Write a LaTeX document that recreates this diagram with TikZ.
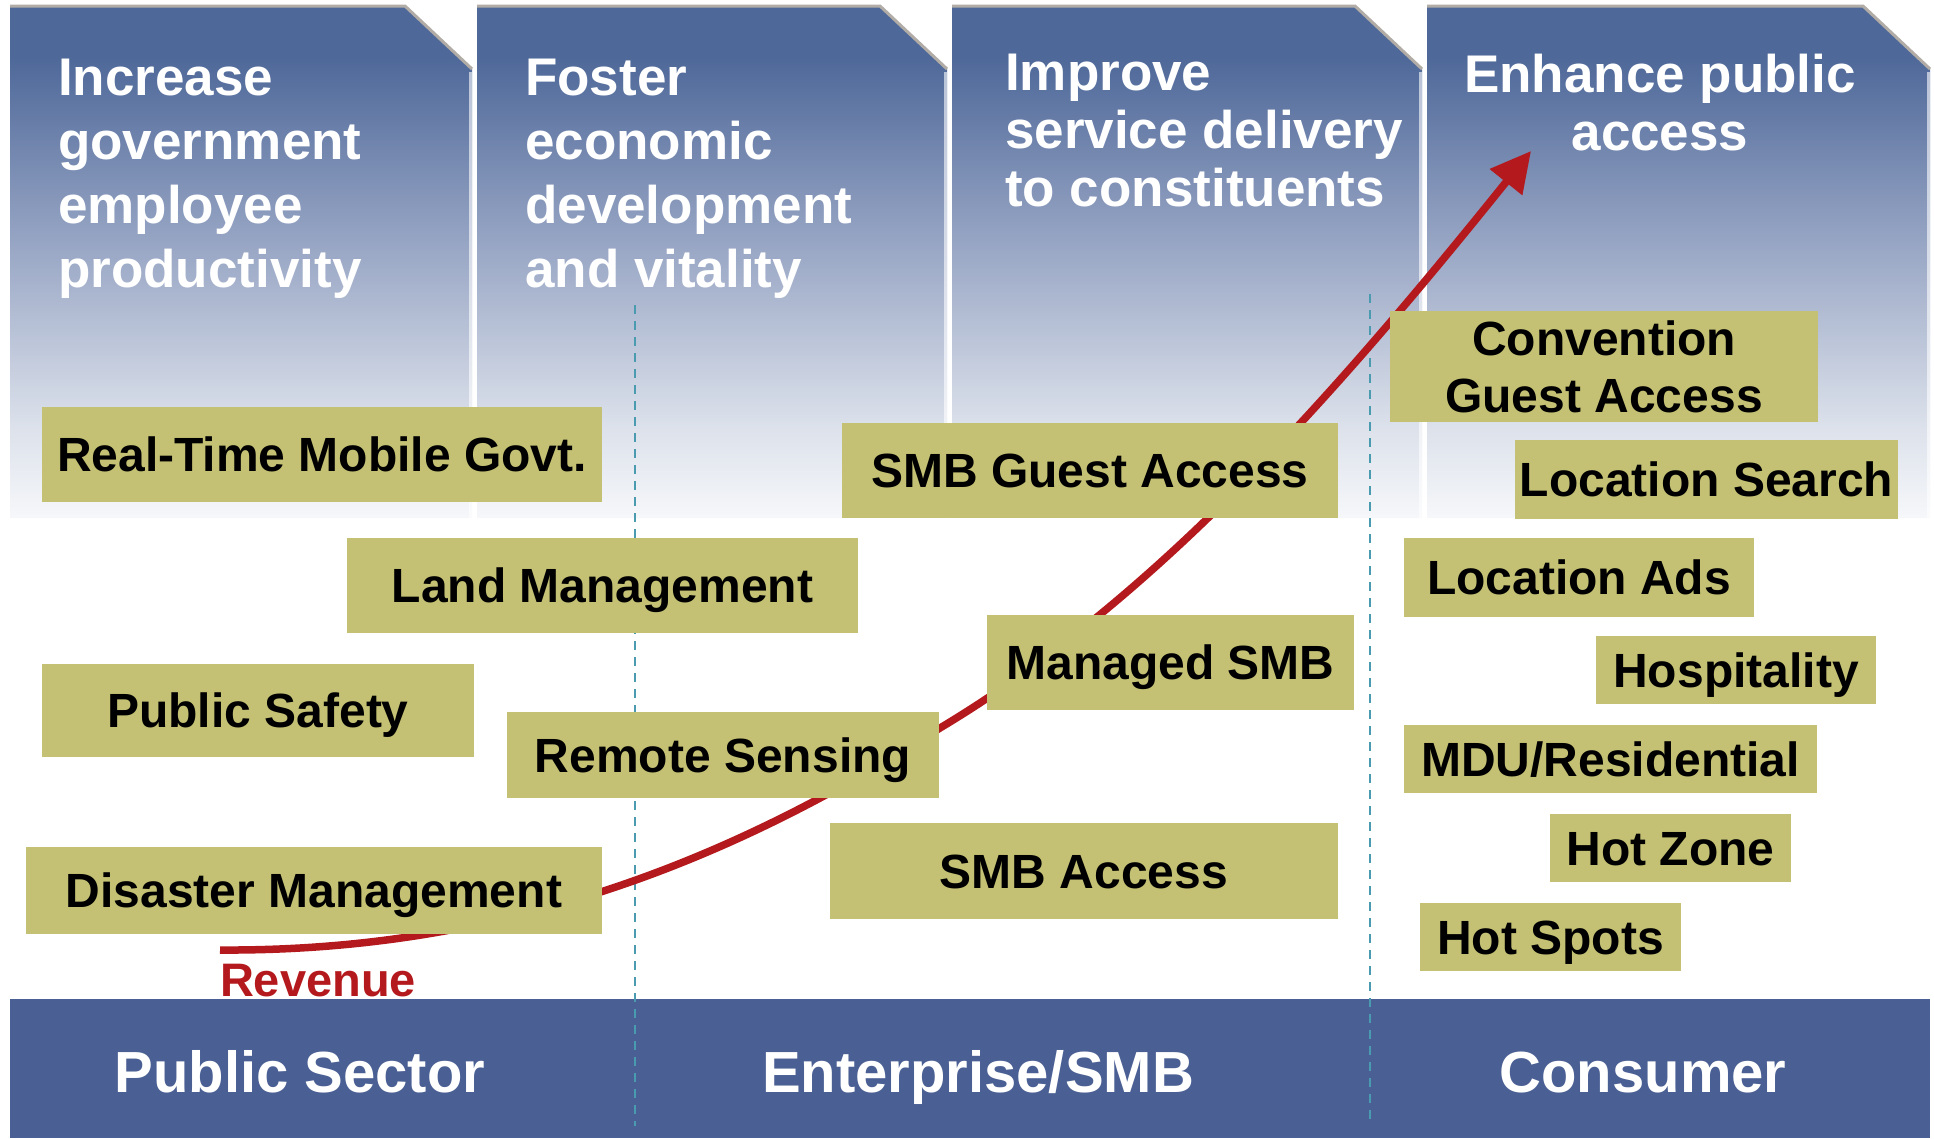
\documentclass[tikz,border=0pt]{standalone}
\usepackage{fontspec}
\setmainfont{Liberation Sans}
\usepackage{tikz}
\usetikzlibrary{arrows.meta}

\definecolor{tabblue}{HTML}{4E6899}
\definecolor{tabmid}{HTML}{97A5C4}
\definecolor{tabedge}{HTML}{B2ACA6}
\definecolor{boxfill}{HTML}{C4C174}
\definecolor{bandblue}{HTML}{4A5F93}
\definecolor{divider}{HTML}{4B9BB0}
\definecolor{revred}{HTML}{B41A1D}
\pgfdeclareverticalshading{tabfade}{100bp}{color(0bp)=(tabblue!5); color(25bp)=(tabblue!5); color(34bp)=(tabblue!20); color(52bp)=(tabmid); color(70bp)=(tabblue); color(100bp)=(tabblue)}

% one goal tab, from x=#1 to x=#2
\newcommand{\goaltab}[2]{%
  \shade[shading=tabfade] (#1,6) -- (#2-67,6) -- (#2,69) -- (#2,518) -- (#1,518) -- cycle;
  \draw[tabedge, line width=3pt] (#1,6) -- (#2-67,6) -- (#2,69);
  \draw[white, line width=3pt, opacity=0.6] (#2-2,72) -- (#2-2,518);}

\tikzset{
  boxbase/.style={fill=boxfill, font=\fontsize{48}{57}\selectfont\bfseries, inner sep=0pt, align=center},
  item/.style={boxbase, text height=34.4pt, text depth=0pt},
  goal/.style={text=white, font=\fontsize{53}{64}\selectfont\bfseries, inner sep=0pt},
  sector/.style={text=white, font=\fontsize{58}{66}\selectfont\bfseries, inner sep=0pt, anchor=base},
  divide/.style={divider, line width=2.5pt, dash pattern=on 9pt off 7pt},
  revenue/.style={revred, line width=7.5pt},
}

\begin{document}
\begin{tikzpicture}[x=1pt, y=-1pt]
\useasboundingbox (0,0) rectangle (1934,1138);
% goals
\goaltab{10}{472}
\goaltab{477}{947}
\goaltab{952}{1422}
\goaltab{1427}{1930}
\node[goal, anchor=north west, align=left] (productivity) at (58,59) {Increase\\government\\employee\\productivity};
\node[goal, anchor=north west, align=left] (economic) at (525,59) {Foster\\economic\\development\\and vitality};
\node[goal, anchor=north west, align=left, font=\fontsize{53}{58}\selectfont\bfseries] (service) at (1005,54) {Improve\\service delivery\\to constituents};
\node[goal, anchor=north, align=center, font=\fontsize{53}{58}\selectfont\bfseries] (publicaccess) at (1660,54) {Enhance public\\access};
%
% sectors
\fill[bandblue] (10,999) rectangle (1930,1138);
\node[sector] (public) at (300,1092) {Public Sector};
\node[sector] (enterprise) at (978,1092) {Enterprise/SMB};
\node[sector] (consumer) at (1643,1092) {Consumer};
\draw[divide] (635,305) -- (635,1126);
\draw[divide] (1370,294) -- (1370,1126);
%
% revenue curve
\coordinate (revstart) at (220,950);
\coordinate (revmid) at (940,728);
\coordinate (revtip) at (1531,151);
\draw[revenue, -{Triangle[length=40pt,width=40pt]}] (revstart) .. controls (540,952) and (770,835) .. (revmid) .. controls (1150,602) and (1322,411) .. (revtip);
\node[revred, font=\fontsize{47}{54}\selectfont\bfseries, inner sep=0pt, anchor=base] (revlabel) at (318,996) {Revenue};
%
% public sector
\node[item, minimum width=560pt, minimum height=95pt] (mobilegovt) at (322,454.5) {Real-Time Mobile Govt.};
\node[item, minimum width=511pt, minimum height=95pt] (landmgmt) at (602.5,585.5) {Land Management};
\node[item, minimum width=432pt, minimum height=93pt] (safety) at (258,710.5) {Public Safety};
\node[item, minimum width=432pt, minimum height=86pt] (sensing) at (723,755) {Remote Sensing};
\node[item, minimum width=576pt, minimum height=87pt] (disaster) at (314,890.5) {Disaster Management};
% enterprise
\node[item, minimum width=496pt, minimum height=95pt] (smbguest) at (1090,470.5) {SMB Guest Access};
\node[item, minimum width=367pt, minimum height=95pt] (managedsmb) at (1170.5,662.5) {Managed SMB};
\node[item, minimum width=508pt, minimum height=96pt] (smbaccess) at (1084,871) {SMB Access};
% consumer
\node[boxbase, minimum width=428pt, minimum height=111pt] (convention) at (1604,366.5) {Convention\\Guest Access};
\node[item, minimum width=383pt, minimum height=79pt] (locsearch) at (1706.5,479.5) {Location Search};
\node[item, minimum width=350pt, minimum height=79pt] (locads) at (1579,577.5) {Location Ads};
\node[item, minimum width=280pt, minimum height=68pt] (hospitality) at (1736,670) {Hospitality};
\node[item, minimum width=413pt, minimum height=68pt] (mdu) at (1610.5,759) {MDU/Residential};
\node[item, minimum width=241pt, minimum height=68pt] (hotzone) at (1670.5,848) {Hot Zone};
\node[item, minimum width=261pt, minimum height=68pt] (hotspots) at (1550.5,937) {Hot Spots};
\end{tikzpicture}
\end{document}
